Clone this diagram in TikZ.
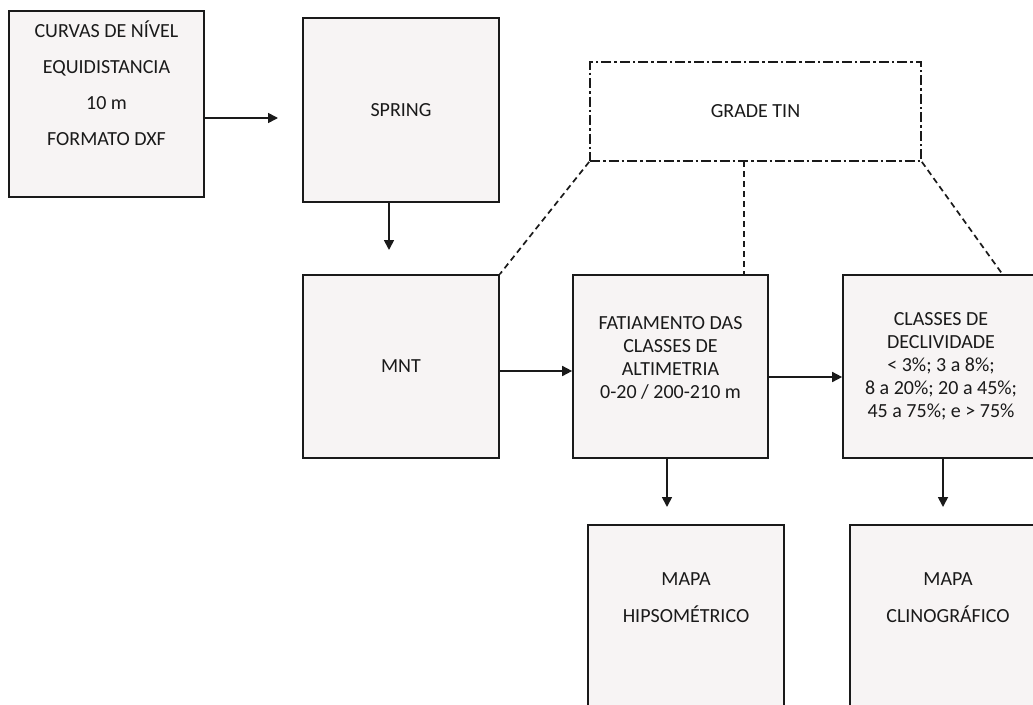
\documentclass[tikz,border=0pt]{standalone}
\usepackage{fontspec}
\setmainfont{Carlito}
\usetikzlibrary{arrows.meta}
\definecolor{boxfill}{HTML}{F7F4F4}
\definecolor{ink}{HTML}{1A1A1A}
\tikzset{
  flowbox/.style={draw=ink, line width=1.7pt, fill=boxfill, align=center, inner sep=0pt,
    font=\fontsize{20}{23}\selectfont, text=ink},
  wideline/.style={font=\fontsize{20}{36}\selectfont},
  arr/.style={draw=ink, line width=1.7pt, -{Triangle[length=10pt,width=10pt]}},
  tinbox/.style={draw=ink, line width=1.7pt, dash pattern=on 10pt off 3pt on 2.5pt off 3pt, align=center, inner sep=0pt,
    font=\fontsize{20}{23}\selectfont, text=ink},
  tinline/.style={draw=ink, line width=1.7pt, dash pattern=on 6pt off 4pt},
}
\begin{document}
\begin{tikzpicture}[x=1pt,y=-1pt]
\clip (0,0) rectangle (1033,704);
\fill[white] (0,0) rectangle (1033,704);
% boxes
\node[flowbox, wideline, minimum width=195pt, minimum height=186pt] (box1) at (106.5,104)
  {CURVAS DE NÍVEL\\EQUIDISTANCIA\\10 m\\FORMATO DXF\\[-6pt]\strut};
\node[flowbox, minimum width=196pt, minimum height=184pt] (spring) at (401,110) {SPRING};
\node[flowbox, minimum width=196pt, minimum height=183pt] (mnt) at (401,366.5) {MNT};
\node[flowbox, minimum width=195pt, minimum height=183pt] (fat) at (670.5,366.5)
  {FATIAMENTO DAS\\CLASSES DE\\ALTIMETRIA\\0-20 / 200-210 m\\[-11pt]\strut};
\node[flowbox, minimum width=196pt, minimum height=183pt] (cls) at (941,366.5)
  {CLASSES DE\\DECLIVIDADE\\< 3\%; 3 a 8\%;\\8 a 20\%; 20 a 45\%;\\45 a 75\%; e > 75\%};
\node[flowbox, font=\fontsize{20}{37}\selectfont, minimum width=196pt, minimum height=184pt] (hips) at (686,617)
  {MAPA\\HIPSOMÉTRICO\\[-10pt]\strut};
\node[flowbox, font=\fontsize{20}{37}\selectfont, minimum width=196pt, minimum height=184pt] (clino) at (948,617)
  {MAPA\\CLINOGRÁFICO\\[-10pt]\strut};
\node[tinbox, minimum width=331pt, minimum height=99pt] (grade) at (755.5,111.5) {GRADE TIN};
% free ends and connector anchors
\coordinate (a1s) at (204,118);
\coordinate (a1e) at (278,118);
\coordinate (a2s) at (389,202);
\coordinate (a2e) at (389,250);
\coordinate (hm) at (0,371);
\coordinate (hf) at (0,377);
\coordinate (vf) at (667,507);
\coordinate (vc) at (943,507);
\coordinate (gv) at (744,161);
\coordinate (clsTop) at (1003,275);
% connectors
\draw[arr] (a1s) -- (a1e);
\draw[arr] (a2s) -- (a2e);
\draw[arr] (mnt.east |- hm) -- (fat.west |- hm);
\draw[arr] (fat.east |- hf) -- (cls.west |- hf);
\draw[arr] (vf |- fat.south) -- (vf);
\draw[arr] (vc |- cls.south) -- (vc);
% grade tin links
\draw[tinline] (grade.south west) -- (mnt.north east);
\draw[tinline] (grade.south east) -- (clsTop);
\draw[tinline] (gv) -- (gv |- fat.north);
\end{tikzpicture}
\end{document}
